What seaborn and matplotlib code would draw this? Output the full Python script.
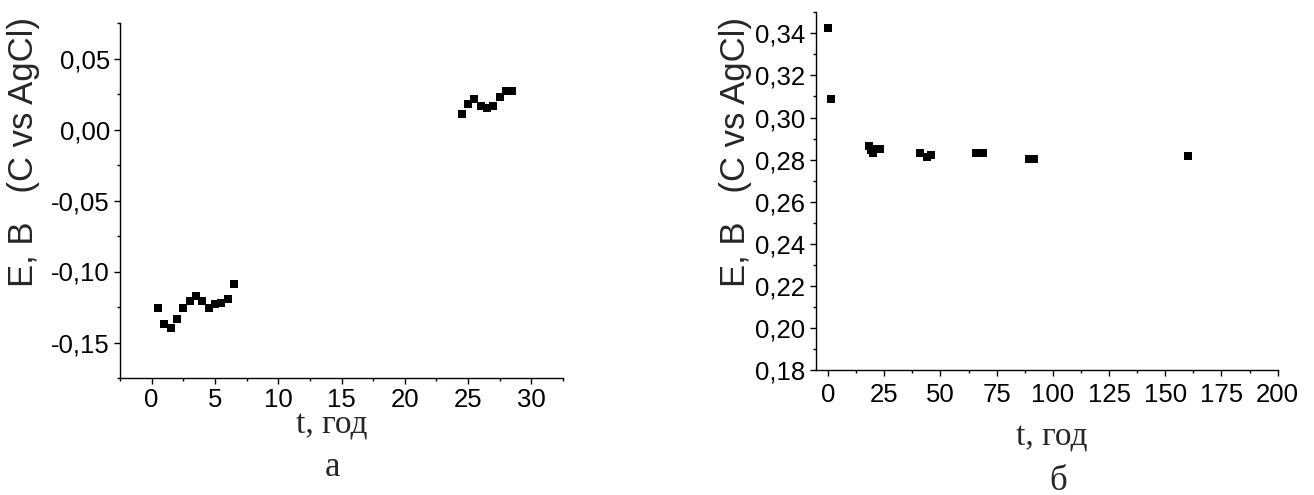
import numpy as np
import pandas as pd
import matplotlib
matplotlib.use("Agg")
import matplotlib.pyplot as plt
import seaborn as sns
from matplotlib.ticker import MultipleLocator, FuncFormatter

# ---- data (panel а) ----
t_a = [0.5, 1.0, 1.5, 2.0, 2.5, 3.0, 3.5, 4.0, 4.5, 5.0, 5.5, 6.0, 6.5,
       24.5, 25.0, 25.5, 26.0, 26.5, 27.0, 27.5, 28.0, 28.5]
E_a = [-0.1255, -0.1373, -0.1396, -0.1337, -0.1255, -0.1209, -0.1174, -0.1209,
       -0.1255, -0.1232, -0.1225, -0.1197, -0.1087,
       0.0112, 0.0180, 0.0217, 0.0163, 0.0152, 0.0168, 0.0229, 0.0269, 0.0269]

# ---- data (panel б) ----
t_b = [0.0, 1.5, 18.0, 19.0, 20.0, 21.0, 23.0, 41.0, 44.0, 46.0, 66.0, 69.0, 89.5, 91.5, 160.0]
E_b = [0.3425, 0.3089, 0.2863, 0.2845, 0.2832, 0.2851, 0.2851, 0.2832, 0.2813, 0.2824,
       0.2830, 0.2830, 0.2801, 0.2801, 0.2819]

xlabel_text = "t, год"
ylabel_text = "E, B   (C vs AgCl)"
panel_labels = ["а", "б"]

sns.set_style("ticks")
plt.rcParams['font.family'] = ['Liberation Sans', 'DejaVu Sans']

W, H = 1314, 495
fig = plt.figure(figsize=(W / 100, H / 100), dpi=100)

ax1 = fig.add_axes([120 / W, 1 - 378 / H, 443 / W, 355 / H])
ax2 = fig.add_axes([815.7 / W, 1 - 370 / H, 462 / W, 357.7 / H])

df_a = pd.DataFrame({"t": t_a, "E": E_a})
df_b = pd.DataFrame({"t": t_b, "E": E_b})

for ax, df in ((ax1, df_a), (ax2, df_b)):
    sns.scatterplot(data=df, x="t", y="E", ax=ax, marker="s", s=30,
                    color="black", linewidth=0, legend=False)
    for side in ("top", "right"):
        ax.spines[side].set_visible(False)
    for side in ("left", "bottom"):
        ax.spines[side].set_linewidth(1.0)
        ax.spines[side].set_color("black")
    ax.set_xlabel("")
    ax.set_ylabel("")
    ax.tick_params(which="major", direction="out", length=4.3, width=1.0, color="black",
                   labelsize=18.5, labelcolor="black")
    ax.tick_params(which="minor", direction="out", length=2.5, width=1.0, color="black")

comma = FuncFormatter(lambda v, p: f"{v:.2f}".replace(".", ","))
intfmt = FuncFormatter(lambda v, p: f"{v:.0f}")

ax1.set_xlim(-2.5, 32.5)
ax1.set_ylim(-0.175, 0.075)
ax1.xaxis.set_major_locator(MultipleLocator(5))
ax1.xaxis.set_minor_locator(MultipleLocator(2.5))
ax1.yaxis.set_major_locator(MultipleLocator(0.05))
ax1.yaxis.set_minor_locator(MultipleLocator(0.025))
ax1.yaxis.set_major_formatter(comma)
ax1.xaxis.set_major_formatter(intfmt)
ax1.tick_params(axis="x", which="major", pad=3)
ax1.tick_params(axis="y", which="major", pad=3)

ax2.set_xlim(-5.5, 200)
ax2.set_ylim(0.18, 0.35)
ax2.xaxis.set_major_locator(MultipleLocator(25))
ax2.xaxis.set_minor_locator(MultipleLocator(12.5))
ax2.yaxis.set_major_locator(MultipleLocator(0.02))
ax2.yaxis.set_minor_locator(MultipleLocator(0.01))
ax2.yaxis.set_major_formatter(comma)
ax2.xaxis.set_major_formatter(intfmt)
ax2.tick_params(axis="x", which="major", pad=5)
ax2.tick_params(axis="y", which="major", pad=3.5)

serif = ['Liberation Serif', 'DejaVu Serif']
sans = ['Liberation Sans', 'DejaVu Sans']
# y labels
fig.text(24 / W, 1 - 152 / H, ylabel_text, rotation=90, ha="center", va="center",
         fontsize=25, family=sans)
fig.text(736 / W, 1 - 152 / H, ylabel_text, rotation=90, ha="center", va="center",
         fontsize=25, family=sans)
# x labels
fig.text(332 / W, 1 - 425 / H, xlabel_text, ha="center", va="center", fontsize=24, family=serif)
fig.text(1052 / W, 1 - 437 / H, xlabel_text, ha="center", va="center", fontsize=24, family=serif)
# panel letters
fig.text(332 / W, 1 - 467 / H, panel_labels[0], ha="center", va="center", fontsize=25, family=serif)
fig.text(1058 / W, 1 - 481 / H, panel_labels[1], ha="center", va="center", fontsize=25, family=serif)

fig.savefig("out.png", dpi=100, facecolor="white")
